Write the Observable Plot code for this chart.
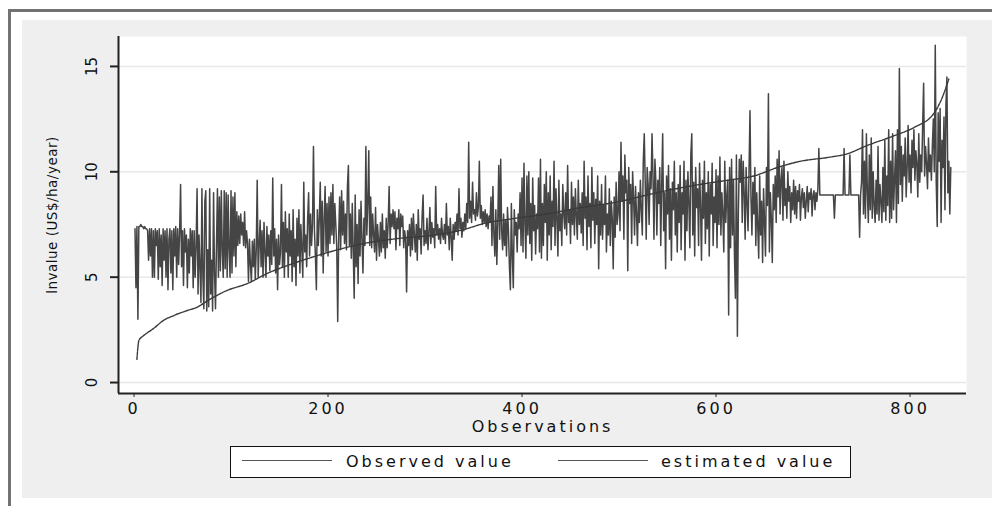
<!DOCTYPE html>
<html><head><meta charset="utf-8">
<script src="https://cdn.jsdelivr.net/npm/d3@7"></script>
<script src="https://cdn.jsdelivr.net/npm/@observablehq/plot@0.6"></script>
<style>
html,body{margin:0;padding:0;background:#fff;width:992px;height:506px;overflow:hidden;font-family:"DejaVu Sans",sans-serif;}
#outer{position:absolute;left:8px;top:9px;width:1010px;height:530px;border:3px solid #727272;box-sizing:border-box;}
#graph{position:absolute;left:22px;top:20px;width:980px;height:478px;background:#efefef;}
#chart{position:absolute;left:0;top:0;}
#chart svg{background:transparent !important;}
#legend{position:absolute;left:230px;top:446px;width:621px;height:32px;box-sizing:border-box;border:1.5px solid #111;background:#fff;}
.lg-line{position:absolute;top:12.5px;width:90px;height:0;border-top:1.2px solid #555;}
.lg-text{position:absolute;top:0;line-height:29px;font-size:16px;letter-spacing:3px;color:#111;}
g[aria-label="x-axis tick label"] text{letter-spacing:3px;}
.xlab{letter-spacing:3px;}
.ylab{letter-spacing:0.5px;}
</style></head>
<body>
<div id="outer"></div>
<div id="graph"></div>
<div id="chart"></div>
<div id="legend">
  <div class="lg-line" style="left:11px"></div>
  <div class="lg-text" style="left:115px">Observed value</div>
  <div class="lg-line" style="left:327px"></div>
  <div class="lg-text" style="left:430px">estimated value</div>
</div>
<script>
const observedValues = [
7.3,4.5,7.4,3.0,7.4,7.4,7.5,7.4,7.4,7.3,7.4,7.3,7.3,7.2,5.8,7.3,6.0,7.3,5.0,7.2,
5.0,7.3,6.5,7.2,4.9,7.3,5.5,7.0,4.6,7.3,5.8,7.2,5.0,7.3,4.4,6.8,7.3,5.2,7.2,4.4,
7.3,6.0,7.4,5.0,7.3,5.6,7.1,9.4,5.5,7.2,4.6,7.3,6.2,7.0,4.5,6.8,5.2,7.3,6.0,7.2,
4.5,7.2,5.0,6.5,9.2,4.2,7.0,5.5,3.8,9.2,5.0,3.5,8.6,9.1,3.4,6.3,3.6,9.2,4.2,5.8,
3.4,9.0,5.2,3.5,6.5,9.2,5.0,8.8,5.3,9.1,6.2,5.0,9.1,5.4,9.0,5.0,8.9,6.3,5.0,9.1,
5.2,8.8,6.0,9.0,5.5,8.1,6.5,7.9,6.6,8.0,7.0,7.6,6.5,8.1,6.4,7.2,6.6,4.8,6.8,5.6,
4.8,6.7,5.5,6.8,4.9,6.3,9.6,5.0,6.5,7.7,5.5,7.2,5.0,7.6,6.2,5.0,7.4,6.0,7.0,5.3,
7.2,5.6,9.7,6.0,7.3,5.2,6.8,4.4,7.0,5.6,6.2,9.4,5.5,7.6,5.0,8.1,6.2,7.3,5.0,8.0,
6.0,7.2,4.8,8.2,5.5,6.8,4.6,7.8,6.0,8.2,5.2,7.5,6.3,5.0,9.5,6.2,7.0,5.5,7.8,9.0,
6.0,8.0,6.5,7.5,11.2,7.2,6.0,4.4,8.2,6.5,7.8,9.5,6.0,8.6,5.2,7.8,9.3,6.2,8.5,6.0,
8.8,6.6,9.0,7.0,9.4,6.6,8.5,7.5,6.4,2.9,7.0,8.8,6.3,9.1,7.0,8.6,6.6,8.0,6.3,9.3,
10.3,6.5,8.0,5.9,8.5,6.2,4.0,8.9,5.5,7.5,4.7,8.2,6.0,8.6,6.8,5.2,7.8,6.5,11.2,7.0,
8.5,11.0,6.5,8.8,6.4,8.0,7.0,6.2,8.3,5.8,7.5,6.8,6.0,7.6,6.2,8.0,6.4,7.2,5.9,7.8,
6.4,7.6,9.3,6.6,8.0,7.4,8.2,7.3,8.1,6.3,7.8,7.3,8.2,6.5,8.0,7.4,7.9,6.4,7.2,6.8,
4.3,7.2,6.5,7.5,6.0,7.8,6.3,8.0,7.0,6.2,7.5,5.8,8.2,6.8,7.3,6.1,7.9,8.9,6.5,7.2,
6.6,7.8,6.3,7.1,8.3,6.6,7.6,6.9,7.3,6.4,9.3,7.0,7.5,6.8,7.3,6.6,7.8,7.0,6.8,7.5,
6.6,8.5,7.0,7.4,6.3,7.8,6.9,5.8,7.5,6.8,7.6,7.2,8.0,7.0,9.2,7.3,7.8,6.9,7.6,7.2,
8.0,7.3,8.5,7.6,11.4,7.8,8.6,7.6,9.5,8.0,8.2,7.7,9.0,7.9,8.3,10.5,7.8,8.4,7.5,8.1,
7.6,8.2,7.4,8.0,7.3,7.9,7.6,8.8,6.5,9.3,7.0,6.0,8.2,5.6,7.6,10.3,6.8,10.6,7.2,6.3,
8.0,6.5,7.7,6.0,8.3,7.2,5.5,4.4,8.5,6.0,4.5,8.2,7.0,7.6,6.2,8.0,7.3,9.0,6.5,9.7,
6.2,10.4,7.5,5.9,9.8,7.0,10.0,6.6,8.5,5.8,9.7,7.2,8.4,6.1,8.0,7.3,9.7,6.2,10.6,5.9,
8.5,6.5,9.4,7.6,10.0,5.8,9.0,7.0,9.8,6.3,8.6,7.4,10.5,6.5,9.2,7.8,6.0,9.6,7.2,8.0,
6.5,9.4,8.0,7.3,9.0,7.0,10.3,7.6,8.2,6.6,9.5,7.5,8.8,7.0,9.2,7.9,6.8,9.6,7.5,8.5,
7.1,9.0,6.5,10.5,7.8,8.8,6.3,9.8,7.4,8.5,6.4,10.2,7.7,9.0,6.6,8.7,7.5,9.8,5.4,8.6,
7.0,9.4,6.8,8.4,7.5,9.8,6.2,8.0,7.0,9.2,6.5,8.6,7.8,5.4,8.8,6.9,9.5,7.5,8.0,10.0,
7.2,11.4,8.6,9.8,6.8,10.8,9.0,9.6,5.3,10.2,8.5,9.4,6.6,10.0,8.8,7.0,9.3,8.0,6.5,9.0,
7.6,9.6,8.2,7.0,10.5,11.8,9.5,6.8,10.2,9.4,7.5,10.0,9.2,11.8,9.8,6.8,10.6,9.5,7.0,9.6,
8.5,10.2,6.5,9.4,11.8,7.2,9.0,5.4,9.8,8.0,10.3,6.8,9.2,5.8,9.5,8.2,10.5,7.0,9.0,6.2,
9.4,7.6,10.3,6.3,9.0,8.0,10.5,5.8,9.6,7.2,10.0,8.5,6.4,10.8,11.8,7.0,9.5,6.0,10.2,8.3,
9.2,6.5,10.4,8.4,5.8,9.6,7.8,10.5,6.6,9.0,7.3,10.0,6.0,9.4,8.0,10.4,6.5,8.8,7.6,10.1,
6.4,9.8,7.5,10.7,7.0,9.0,8.0,6.2,10.5,7.6,8.8,9.6,3.2,10.2,6.4,10.6,7.0,9.6,6.0,4.0,
10.8,2.2,8.0,10.6,9.5,10.8,7.6,10.5,9.0,6.8,10.2,8.5,7.2,10.0,12.9,8.8,7.0,9.5,8.0,10.2,
6.5,9.0,7.4,5.9,9.8,7.0,8.6,5.7,9.2,7.6,6.0,10.2,8.4,13.7,6.2,9.0,7.8,5.7,9.4,8.2,
9.8,7.6,10.6,8.8,11.0,8.0,9.6,10.2,7.7,10.5,8.4,9.2,7.8,10.0,8.6,9.3,7.6,9.0,8.2,9.6,
8.0,9.3,7.8,9.1,8.6,9.4,7.7,8.8,9.2,8.3,9.0,7.8,8.6,9.3,8.1,9.0,8.7,9.2,7.9,8.9,
9.1,8.2,9.0,8.6,9.2,11.1,8.9,8.9,8.9,8.9,8.9,8.9,8.9,8.9,8.9,8.9,8.9,8.9,8.9,8.9,
8.9,7.8,8.9,8.9,8.9,8.9,8.9,8.9,8.9,8.9,8.9,11.1,8.9,8.9,8.9,8.9,8.9,10.8,8.9,8.9,
8.9,8.9,8.9,8.9,8.9,8.9,8.9,6.9,8.9,9.5,12.0,8.0,10.5,7.8,11.8,9.0,7.6,10.8,8.2,11.6,
7.8,10.0,8.4,7.6,9.6,8.0,11.2,7.7,9.4,8.6,7.6,10.2,8.1,11.5,7.7,9.8,8.4,12.0,7.6,10.5,
7.8,11.8,8.2,9.6,11.0,7.6,12.0,8.5,14.9,9.4,11.2,8.6,10.8,9.8,11.6,8.8,10.2,12.2,9.5,10.8,
9.0,11.5,10.2,12.0,9.6,11.0,10.4,8.8,11.8,9.5,10.8,10.0,12.2,14.2,9.8,11.2,10.4,9.2,11.6,10.0,
10.8,9.6,11.2,12.5,10.0,16.0,9.5,7.4,12.8,10.5,13.0,7.6,11.5,10.2,12.6,8.2,13.2,14.5,9.0,10.5,8.0,10.2
];

// Estimated (fitted) curve, read at sample observations
const estimatedObs = [3,4,5,10,20,30,41,55,65,76,96,117,137,158,179,202,237,271,306,340,361,391,426,460,495,543,577,612,639,663,687,715,735,756,783,804,825,833,840];
const estimatedValues = [1.1,1.67,2.0,2.23,2.56,2.94,3.18,3.42,3.57,3.89,4.37,4.7,5.17,5.55,5.88,6.2,6.6,6.83,6.98,7.26,7.55,7.78,8.0,8.3,8.54,9.05,9.35,9.6,9.8,10.2,10.5,10.68,10.85,11.25,11.7,12.1,12.8,13.5,14.4];

const xTicks = [0, 200, 400, 600, 800];
const yTicks = [0, 5, 10, 15];
const xTitle = "Observations";
const yTitle = "lnvalue (US$/ha/year)";

const xDomain = [-16, 858.2];
const yDomain = [-0.52, 16.42];

const observed = observedValues.map((v, i) => ({obs: i + 1, value: v}));
const estimated = estimatedObs.map((o, i) => ({obs: o, value: estimatedValues[i]}));

const chart = Plot.plot({
  width: 992, height: 506,
  marginLeft: 118, marginRight: 26, marginTop: 36, marginBottom: 113,
  x: {domain: xDomain, axis: null},
  y: {domain: yDomain, axis: null},
  style: {background: "transparent", fontFamily: "DejaVu Sans", color: "#111"},
  marks: [
    Plot.frame({fill: "white", stroke: null}),
    Plot.ruleY(yTicks, {stroke: "#e8e8e8", strokeWidth: 1.5}),
    Plot.line(observed, {x: "obs", y: "value", stroke: "#454545", strokeWidth: 1.5}),
    Plot.line(estimated, {x: "obs", y: "value", stroke: "#3a3a3a", strokeWidth: 1.4, curve: "monotone-x", strokeDasharray: "3,1"}),
    Plot.ruleY([yDomain[0]], {stroke: "#222", strokeWidth: 2}),
    Plot.ruleX([xDomain[0]], {stroke: "#222", strokeWidth: 2}),
    Plot.axisX(xTicks, {tickSize: 4, tickPadding: 5, fontSize: 16, label: null, stroke: "#222"}),
    Plot.axisY(yTicks, {tickSize: 8, tickFormat: () => "", label: null, stroke: "#222", strokeWidth: 2}),
    Plot.text(yTicks, {y: d => d, text: d => String(d), frameAnchor: "left", dx: -26, rotate: -90, textAnchor: "middle", lineAnchor: "middle", fontSize: 15, fill: "#111"}),
    Plot.text([xTitle], {frameAnchor: "bottom", dy: 33, lineAnchor: "middle", fontSize: 16, fill: "#111", className: "xlab"}),
    Plot.text([yTitle], {frameAnchor: "left", dx: -66, rotate: -90, textAnchor: "middle", lineAnchor: "middle", fontSize: 13.5, fill: "#111", className: "ylab"})
  ]
});
document.getElementById("chart").appendChild(chart);
</script>
</body></html>
